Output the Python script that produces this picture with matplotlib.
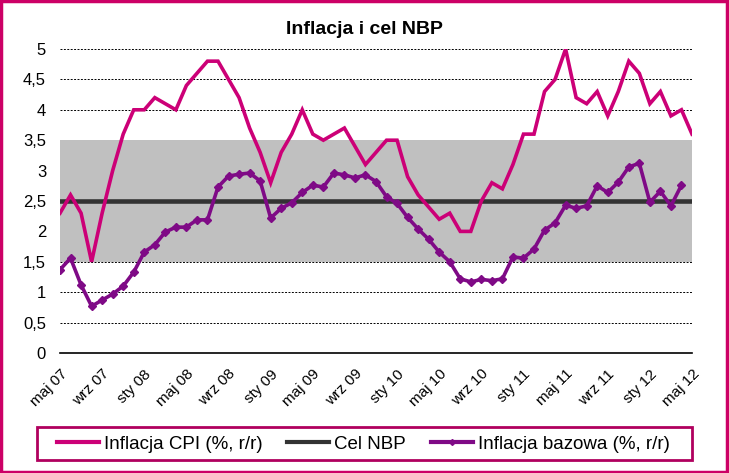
import numpy as np
import matplotlib
matplotlib.use("Agg")
from matplotlib import pyplot as plt
from matplotlib.patches import Rectangle
from matplotlib.lines import Line2D

plt.rcParams["font.family"] = ["Liberation Sans", "DejaVu Sans"]

months = ["maj 07", "cze 07", "lip 07", "sie 07", "wrz 07", "paź 07", "lis 07", "gru 07",
          "sty 08", "lut 08", "mar 08", "kwi 08", "maj 08", "cze 08", "lip 08", "sie 08",
          "wrz 08", "paź 08", "lis 08", "gru 08", "sty 09", "lut 09", "mar 09", "kwi 09",
          "maj 09", "cze 09", "lip 09", "sie 09", "wrz 09", "paź 09", "lis 09", "gru 09",
          "sty 10", "lut 10", "mar 10", "kwi 10", "maj 10", "cze 10", "lip 10", "sie 10",
          "wrz 10", "paź 10", "lis 10", "gru 10", "sty 11", "lut 11", "mar 11", "kwi 11",
          "maj 11", "cze 11", "lip 11", "sie 11", "wrz 11", "paź 11", "lis 11", "gru 11",
          "sty 12", "lut 12", "mar 12", "kwi 12", "maj 12"]

cpi = [2.3, 2.6, 2.3, 1.5, 2.3, 3.0, 3.6, 4.0,
       4.0, 4.2, 4.1, 4.0, 4.4, 4.6, 4.8, 4.8,
       4.5, 4.2, 3.7, 3.3, 2.8, 3.3, 3.6, 4.0,
       3.6, 3.5, 3.6, 3.7, 3.4, 3.1, 3.3, 3.5,
       3.5, 2.9, 2.6, 2.4, 2.2, 2.3, 2.0, 2.0,
       2.5, 2.8, 2.7, 3.1, 3.6, 3.6, 4.3, 4.5,
       5.0, 4.2, 4.1, 4.3, 3.9, 4.3, 4.8, 4.6,
       4.1, 4.3, 3.9, 4.0, 3.6]

core = [1.37, 1.56, 1.12, 0.77, 0.87, 0.97, 1.1, 1.33,
        1.66, 1.78, 1.99, 2.07, 2.07, 2.19, 2.19, 2.73,
        2.91, 2.94, 2.96, 2.83, 2.22, 2.38, 2.47, 2.64,
        2.76, 2.73, 2.96, 2.93, 2.88, 2.93, 2.82, 2.57,
        2.46, 2.23, 2.04, 1.87, 1.66, 1.5, 1.22, 1.17,
        1.21, 1.19, 1.22, 1.58, 1.56, 1.71, 2.02, 2.14,
        2.43, 2.38, 2.42, 2.75, 2.64, 2.81, 3.06, 3.12,
        2.48, 2.66, 2.42, 2.76, np.nan]

target = 2.5
band_low, band_high = 1.5, 3.5

yticks = [0, 0.5, 1, 1.5, 2, 2.5, 3, 3.5, 4, 4.5, 5]
ytick_labels = ["0", "0,5", "1", "1,5", "2", "2,5", "3", "3,5", "4", "4,5", "5"]

pink = "#CC0077"
purple = "#7F0A86"
dark = "#333333"

W, H = 729, 473
fig = plt.figure(figsize=(W / 100, H / 100), dpi=100)
ax = fig.add_axes([60 / W, 1 - 353 / H, 632 / W, 304 / H])

x = np.arange(len(months))
ax.fill_between([0, len(months) - 1], band_low, band_high, color="#C0C0C0", lw=0, zorder=2)
ax.axhline(target, color=dark, lw=3.3, zorder=3)
ax.plot(x, cpi, color=pink, lw=2.6, zorder=4, solid_joinstyle="miter")
ax.plot(x, core, color=purple, lw=2.6, marker="D", ms=4, zorder=5)

ax.set_xlim(0, len(months) - 1)
ax.set_ylim(0, 5)
ax.set_yticks(yticks)
ax.set_yticklabels(ytick_labels, fontsize=12)
ax.yaxis.grid(True, color="black", ls=(0, (2, 1.5)), lw=0.7, zorder=1)
ax.set_axisbelow(True)

ax.set_xticks(x[::4])
ax.set_xticklabels(months[::4], rotation=45, ha="right", rotation_mode="anchor", fontsize=11)
ax.tick_params(axis="x", length=0, pad=10)
ax.tick_params(axis="y", length=0, pad=10)

for s in ["top", "right", "left"]:
    ax.spines[s].set_visible(False)
ax.spines["bottom"].set_color("black")
ax.spines["bottom"].set_linewidth(1.2)
ax.spines["bottom"].set_zorder(6)

fig.text(0.5, 1 - 30 / H, "Inflacja i cel NBP", ha="center", va="center",
         fontsize=14, fontweight="bold")

# legend box
fig.patches.append(Rectangle((37 / W, 1 - 460 / H), 655 / W, 33 / H, transform=fig.transFigure,
                             fill=False, ec="#B0005E", lw=2))
handles = [Line2D([], [], color=pink, lw=3),
           Line2D([], [], color=dark, lw=3),
           Line2D([], [], color=purple, lw=3, marker="D", ms=3, markevery=[1])]
labels = ["Inflacja CPI (%, r/r)", "Cel NBP", "Inflacja bazowa (%, r/r)"]
fig.legend(handles, labels, loc="center left", bbox_to_anchor=(57 / W, 1 - 444 / H),
           ncol=3, frameon=False, fontsize=13.5, handlelength=2.25, handletextpad=0.27,
           columnspacing=1.3, borderaxespad=0, borderpad=0)

# outer border
fig.patches.append(Rectangle((0.002, 0.003), 0.995, 0.994, transform=fig.transFigure,
                             fill=False, ec="#CC0066", lw=2.5))

fig.savefig("out.png", dpi=100)
